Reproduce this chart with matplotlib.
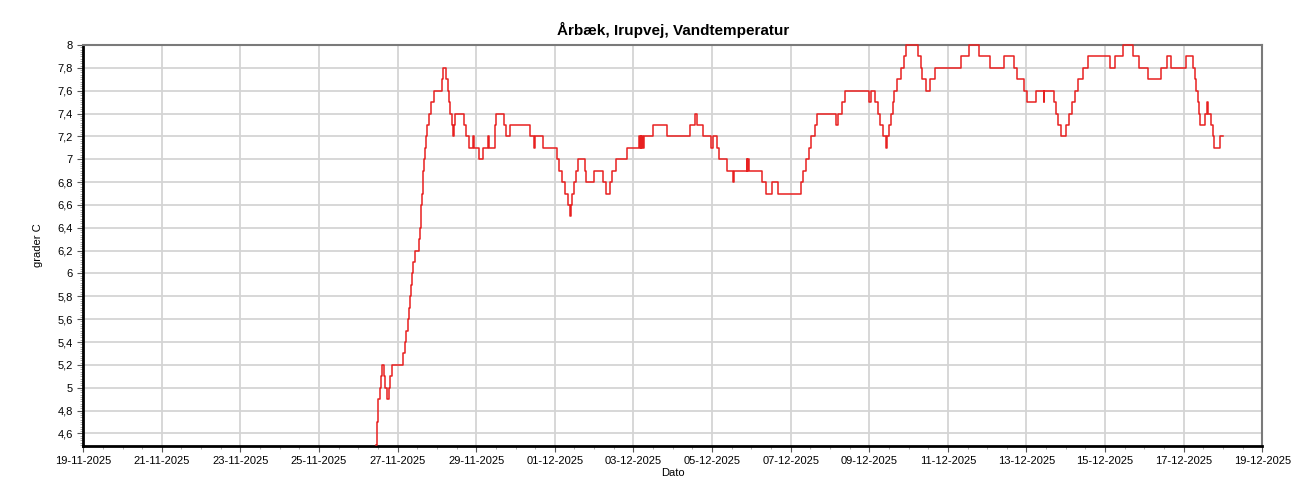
import matplotlib
matplotlib.use("Agg")
import matplotlib.pyplot as plt
import matplotlib.dates as mdates
from matplotlib.ticker import MultipleLocator, FuncFormatter
import pandas as pd

plt.rcParams['font.family'] = ['Liberation Sans', 'DejaVu Sans']

# hours after 19-11-2025 00:00 where the reading changes, and the new reading
hours = [178.9, 179.4, 179.9, 181.2, 181.8, 182.4, 183.4, 184.4, 185.5, 186.9,
         187.5, 188.5, 195.1, 196.3, 197.3, 198.3, 198.9, 199.8, 200.4, 201.0,
         201.6, 202.4, 204.9, 205.5, 206.1, 206.5, 206.9, 207.3, 207.7, 208.1,
         208.5, 209.2, 210.2, 211.0, 212.2, 214.3, 218.8, 219.8, 221.6, 222.6,
         223.3, 224.0, 224.9, 225.7, 226.3, 227.3, 232.7, 233.9, 235.5, 238.0,
         238.8, 241.6, 244.1, 247.2, 247.8, 251.2, 252.3, 257.0, 258.4, 260.4,
         272.9, 275.1, 276.1, 280.9, 289.2, 290.6, 292.6, 294.1, 296.3, 297.1,
         297.9, 298.7, 299.7, 300.7, 302.1, 306.2, 306.8, 311.8, 317.4, 319.5,
         321.5, 322.9, 325.3, 332.0, 339.6, 340.0, 340.4, 340.8, 341.3, 341.7,
         342.5, 347.7, 356.6, 370.3, 373.8, 375.0, 378.3, 383.4, 384.4, 387.0,
         388.1, 392.9, 397.0, 397.6, 405.1, 405.5, 405.9, 406.3, 414.8, 416.8,
         420.7, 424.3, 438.1, 439.7, 441.1, 443.1, 444.5, 446.6, 448.2, 459.9,
         460.9, 463.4, 465.0, 479.8, 480.8, 483.6, 485.3, 486.7, 488.1, 490.1,
         491.1, 492.1, 493.3, 494.3, 495.2, 496.8, 499.4, 501.4, 502.4, 509.5,
         511.3, 512.5, 514.4, 517.0, 520.0, 536.2, 540.8, 547.3, 553.8, 562.5,
         568.1, 570.1, 574.2, 576.6, 581.7, 586.6, 587.0, 592.7, 594.1, 595.5,
         597.2, 600.2, 601.8, 603.9, 605.7, 607.3, 610.4, 613.4, 627.1, 630.1,
         635.2, 640.9, 645.0, 650.4, 658.2, 661.8, 664.3, 673.4, 677.5, 678.9,
         679.7, 680.5, 681.6, 682.2, 685.2, 686.0, 687.1, 688.7, 689.7, 690.3,
         694.4, 695.8]
temps = [4.5, 4.7, 4.9, 5.0, 5.1, 5.2, 5.1, 5.0, 4.9, 5.0,
         5.1, 5.2, 5.3, 5.4, 5.5, 5.6, 5.7, 5.8, 5.9, 6.0,
         6.1, 6.2, 6.3, 6.4, 6.5, 6.6, 6.7, 6.8, 6.9, 7.0,
         7.1, 7.2, 7.3, 7.4, 7.5, 7.6, 7.7, 7.8, 7.7, 7.6,
         7.5, 7.4, 7.3, 7.2, 7.3, 7.4, 7.3, 7.2, 7.1, 7.2,
         7.1, 7.0, 7.1, 7.2, 7.1, 7.3, 7.4, 7.3, 7.2, 7.3,
         7.2, 7.1, 7.2, 7.1, 7.0, 6.9, 6.8, 6.7, 6.6, 6.5,
         6.6, 6.7, 6.8, 6.9, 7.0, 6.9, 6.8, 6.9, 6.8, 6.7,
         6.8, 6.9, 7.0, 7.1, 7.2, 7.1, 7.2, 7.1, 7.2, 7.1,
         7.2, 7.3, 7.2, 7.3, 7.4, 7.3, 7.2, 7.1, 7.2, 7.1,
         7.0, 6.9, 6.8, 6.9, 7.0, 6.9, 7.0, 6.9, 6.8, 6.7,
         6.8, 6.7, 6.8, 6.9, 7.0, 7.1, 7.2, 7.3, 7.4, 7.3,
         7.4, 7.5, 7.6, 7.5, 7.6, 7.5, 7.4, 7.3, 7.2, 7.1,
         7.2, 7.3, 7.4, 7.5, 7.6, 7.7, 7.8, 7.9, 8.0, 7.9,
         7.8, 7.7, 7.6, 7.7, 7.8, 7.9, 8.0, 7.9, 7.8, 7.9,
         7.8, 7.7, 7.6, 7.5, 7.6, 7.5, 7.6, 7.5, 7.4, 7.3,
         7.2, 7.3, 7.4, 7.5, 7.6, 7.7, 7.8, 7.9, 7.8, 7.9,
         8.0, 7.9, 7.8, 7.7, 7.8, 7.9, 7.8, 7.9, 7.8, 7.7,
         7.6, 7.5, 7.4, 7.3, 7.4, 7.5, 7.4, 7.3, 7.2, 7.1,
         7.2, 7.2]

start = pd.Timestamp("2025-11-19")
end = pd.Timestamp("2025-12-19")
times = start + pd.to_timedelta(hours, unit="h")

fig = plt.figure(figsize=(13, 5), dpi=100)
ax = fig.add_axes([0.064, 0.108, 0.907, 0.802])

line, = ax.plot(times, temps, color="#e82020", lw=1.1, drawstyle="steps-post", zorder=5)
line.set_clip_on(False)

ax.set_xlim(start, end)
ax.set_ylim(4.49, 8.0)

# labels on odd days of the month, small ticks every 12 hours
ax.xaxis.set_major_locator(mdates.DayLocator(bymonthday=range(1, 32, 2)))
ax.xaxis.set_minor_locator(mdates.HourLocator(byhour=[0, 12]))
ax.xaxis.set_major_formatter(mdates.DateFormatter("%d-%m-%Y"))
ax.yaxis.set_major_locator(MultipleLocator(0.2))
ax.yaxis.set_minor_locator(MultipleLocator(0.02))
ax.yaxis.set_major_formatter(FuncFormatter(lambda v, p: "{:g}".format(round(v, 2)).replace(".", ",")))

ax.tick_params(axis="both", which="major", labelsize=8, length=4, color="#555555")
ax.tick_params(axis="both", which="minor", length=2.5, color="#999999")

ax.grid(True, which="major", color="#d4d4d4", lw=1.3)
ax.set_axisbelow(True)

for side in ["left", "bottom"]:
    ax.spines[side].set_color("black")
    ax.spines[side].set_linewidth(2)
for side in ["top", "right"]:
    ax.spines[side].set_color("#7a7a7a")
    ax.spines[side].set_linewidth(1.5)

ax.set_title("Årbæk, Irupvej, Vandtemperatur", fontsize=11, fontweight="bold", pad=7)
ax.set_xlabel("Dato", fontsize=8, labelpad=1)
ax.set_ylabel("grader C", fontsize=8, labelpad=10)

fig.savefig("out.png", dpi=100)
